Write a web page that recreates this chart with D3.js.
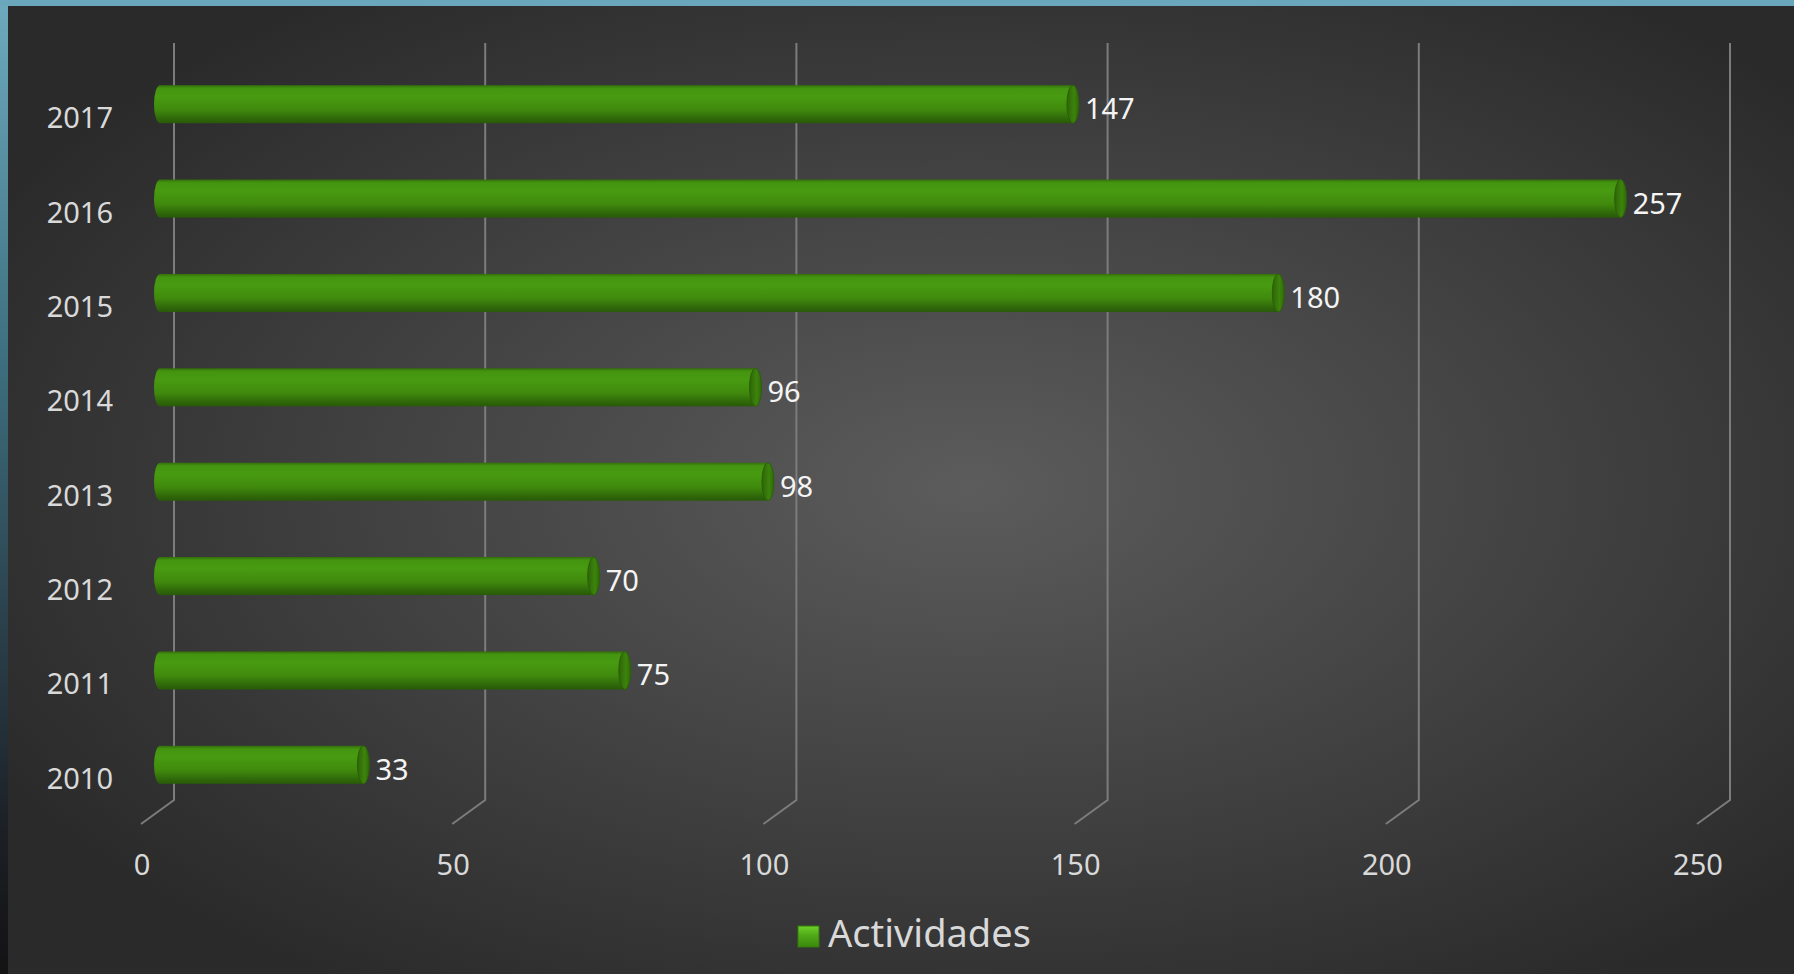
<!DOCTYPE html>
<html>
<head>
<meta charset="utf-8">
<script src="https://cdn.jsdelivr.net/npm/d3@7"></script>
<style>
  html, body { margin: 0; padding: 0; background: #2b2b2b; overflow: hidden; }
  svg { display: block; font-family: "Noto Sans", "Open Sans", sans-serif; }
</style>
</head>
<body>
<svg id="chart" width="1794" height="974"></svg>
<script>
const years = ["2017", "2016", "2015", "2014", "2013", "2012", "2011", "2010"];
// numbers printed next to each bar
const labels = [147, 257, 180, 96, 98, 70, 75, 33];
// bar lengths as drawn (the 2016 bar only reaches about 235 on the axis)
const barValues = [147, 235, 180, 96, 98, 70, 75, 33];
const ticks = [0, 50, 100, 150, 200, 250];
const seriesName = "Actividades";

const W = 1794, H = 974;
const depth = 16;

const svg = d3.select("#chart");
const defs = svg.append("defs");

// background
const bg = defs.append("radialGradient").attr("id", "bg")
  .attr("cx", "54%").attr("cy", "50%").attr("r", "62%");
bg.append("stop").attr("offset", "0%").attr("stop-color", "#5c5c5c");
bg.append("stop").attr("offset", "100%").attr("stop-color", "#2a2a2a");

const side = defs.append("linearGradient").attr("id", "side")
  .attr("x1", 0).attr("y1", 0).attr("x2", 0).attr("y2", 1);
side.append("stop").attr("offset", "0%").attr("stop-color", "#6eaabf");
side.append("stop").attr("offset", "35%").attr("stop-color", "#3f7282");
side.append("stop").attr("offset", "65%").attr("stop-color", "#2a3f4a");
side.append("stop").attr("offset", "85%").attr("stop-color", "#1c2026");
side.append("stop").attr("offset", "100%").attr("stop-color", "#141213");

const barGrad = defs.append("linearGradient").attr("id", "barGrad")
  .attr("x1", 0).attr("y1", 0).attr("x2", 0).attr("y2", 1);
[["0%", "#336f0b"], ["8%", "#449410"], ["30%", "#489b11"], ["65%", "#40890d"],
 ["88%", "#2f680a"], ["100%", "#285a07"]].forEach(([o, c]) =>
  barGrad.append("stop").attr("offset", o).attr("stop-color", c));

const capGrad = defs.append("linearGradient").attr("id", "capGrad")
  .attr("x1", 0).attr("y1", 0).attr("x2", 1).attr("y2", 0);
capGrad.append("stop").attr("offset", "0%").attr("stop-color", "#2d6508");
capGrad.append("stop").attr("offset", "60%").attr("stop-color", "#3d830c");
capGrad.append("stop").attr("offset", "100%").attr("stop-color", "#2e6a09");

const legGrad = defs.append("linearGradient").attr("id", "legGrad")
  .attr("x1", 0).attr("y1", 0).attr("x2", 0).attr("y2", 1);
legGrad.append("stop").attr("offset", "0%").attr("stop-color", "#6fd12a");
legGrad.append("stop").attr("offset", "45%").attr("stop-color", "#4fa817");
legGrad.append("stop").attr("offset", "100%").attr("stop-color", "#3a8a0c");

svg.append("rect").attr("width", W).attr("height", H).attr("fill", "url(#bg)");
svg.append("rect").attr("width", 8).attr("height", H).attr("fill", "url(#side)");
svg.append("rect").attr("width", W).attr("height", 6).attr("fill", "#6ba7bc");

// scales: x is the middle of the 3d depth, back wall is +depth, front is -depth
const x = d3.scaleLinear().domain([0, 250]).range([158, 1714]);
const y = d3.scaleBand().domain(years).range([57, 812]);
const barH = 38;

const gridTop = 43, floorBack = 800, floorFront = 824;

// back-wall gridlines with floor diagonal
svg.append("g").selectAll("path").data(ticks).join("path")
  .attr("d", d => {
    const xb = x(d) + depth;
    return `M${xb},${gridTop}V${floorBack}L${xb - 2 * depth - 1},${floorFront}`;
  })
  .attr("fill", "none").attr("stroke", "#7c7c7c").attr("stroke-width", 2);

// axis tick labels
svg.append("g").selectAll("text").data(ticks).join("text")
  .attr("x", d => x(d) - depth)
  .attr("y", 875)
  .attr("text-anchor", "middle")
  .attr("font-size", 29)
  .attr("fill", "#d9d9d9")
  .text(d => d);

// category labels
svg.append("g").selectAll("text").data(years).join("text")
  .attr("x", 113)
  .attr("y", d => y(d) + y.bandwidth() / 2 + 24)
  .attr("text-anchor", "end")
  .attr("font-size", 29)
  .attr("fill", "#d9d9d9")
  .text(d => d);

// bars as cylinders
const bars = svg.append("g").selectAll("g").data(years).join("g")
  .attr("transform", d => `translate(0,${y(d) + y.bandwidth() / 2})`);

bars.append("ellipse")
  .attr("cx", x(0) + 2).attr("cy", 0)
  .attr("rx", 6).attr("ry", barH / 2)
  .attr("fill", "url(#barGrad)");

bars.append("rect")
  .attr("x", x(0) + 2)
  .attr("y", -barH / 2)
  .attr("width", (d, i) => x(barValues[i]) - x(0) - 2)
  .attr("height", barH)
  .attr("fill", "url(#barGrad)");

bars.append("ellipse")
  .attr("cx", (d, i) => x(barValues[i]))
  .attr("cy", 0)
  .attr("rx", 6).attr("ry", barH / 2)
  .attr("fill", "url(#capGrad)")
  .attr("stroke", "#2a6007").attr("stroke-width", 1);

bars.append("text")
  .attr("x", (d, i) => x(barValues[i]) + 12)
  .attr("y", 15)
  .attr("font-size", 29)
  .attr("fill", "#f4f4f4")
  .text((d, i) => labels[i]);

// legend
const legend = svg.append("g").attr("transform", "translate(798,926)");
legend.append("rect").attr("width", 21).attr("height", 21)
  .attr("fill", "url(#legGrad)").attr("stroke", "#357a0c").attr("stroke-width", 1);
legend.append("text")
  .attr("x", 30).attr("y", 21)
  .attr("font-size", 38)
  .attr("fill", "#d9d9d9")
  .text(seriesName);
</script>
</body>
</html>
